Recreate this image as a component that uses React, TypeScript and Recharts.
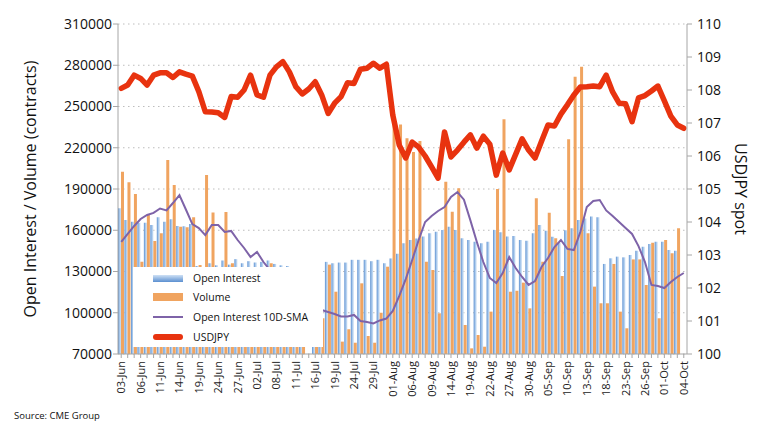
import React from 'react';
import { ComposedChart, Bar, Line, XAxis, YAxis, CartesianGrid, Legend } from 'recharts';

const dates = [
  '03-Jun','04-Jun','05-Jun','06-Jun','07-Jun','10-Jun','11-Jun','12-Jun','13-Jun','14-Jun',
  '17-Jun','18-Jun','19-Jun','20-Jun','21-Jun','24-Jun','25-Jun','26-Jun','27-Jun','28-Jun',
  '01-Jul','02-Jul','03-Jul','05-Jul','08-Jul','09-Jul','10-Jul','11-Jul','12-Jul','15-Jul',
  '16-Jul','17-Jul','18-Jul','19-Jul','22-Jul','23-Jul','24-Jul','25-Jul','26-Jul','29-Jul',
  '30-Jul','31-Jul','01-Aug','02-Aug','05-Aug','06-Aug','07-Aug','08-Aug','09-Aug','12-Aug',
  '13-Aug','14-Aug','15-Aug','16-Aug','19-Aug','20-Aug','21-Aug','22-Aug','23-Aug','26-Aug',
  '27-Aug','28-Aug','29-Aug','30-Aug','03-Sep','04-Sep','05-Sep','06-Sep','09-Sep','10-Sep',
  '11-Sep','12-Sep','13-Sep','16-Sep','17-Sep','18-Sep','19-Sep','20-Sep','23-Sep','24-Sep',
  '25-Sep','26-Sep','27-Sep','30-Sep','01-Oct','02-Oct','03-Oct','04-Oct',
];

const openInterest = [
  176000,167500,166200,165500,165500,163800,169400,166200,168000,163100,
  163000,164500,134000,133000,136000,134500,138000,135000,139000,136000,
  137500,136500,137000,138000,135500,134500,134000,120000,118000,null,
  110000,115000,137000,136000,136500,136500,138500,138500,138500,137500,
  138500,136000,139500,143000,150500,153000,154000,155500,157800,159000,
  160200,162600,160200,154100,152900,151700,150500,151700,160200,158500,
  155500,155800,152900,152400,157800,163800,159700,155300,151000,160000,
  161500,167500,168500,170000,169400,135500,139600,140800,140300,142000,
  145100,148000,150000,151700,151700,145600,145100,null,
];

const volume = [
  202600,194900,186400,137100,171100,152200,157800,211100,192900,162600,
  162100,169400,134700,200200,173000,118000,173300,136000,112000,98000,
  105000,121000,95000,136000,108000,99000,115000,92000,104000,null,
  88000,96000,135000,115300,79000,88000,78200,121400,83100,78200,
  100000,133500,239000,237000,227000,217000,225000,137100,131100,99600,
  195300,173500,190500,91100,74100,83800,75300,100800,190000,240700,
  115300,116000,121900,103200,183200,137100,172800,154100,126700,226100,
  271700,279000,157800,119000,106900,106900,135500,100800,88700,138800,
  138800,120200,151000,96000,152900,143200,161400,null,
];

const oiSma10 = [
  151500,157300,163100,168200,171100,172600,175800,174400,179800,185600,
  175100,164500,161600,156500,163800,163800,158700,159500,152900,147100,
  140500,144200,136900,131000,127000,124000,119000,116000,112000,108000,
  105000,102000,100500,99100,97300,97300,98400,94000,93300,92200,
  94400,95800,101300,112200,124500,138400,152900,166000,170400,174000,
  176900,184200,187800,182200,167200,151500,136900,125300,121600,128900,
  140500,132500,126000,120200,123100,133300,139800,147800,152900,146400,
  145600,158700,176900,181300,182000,174400,170400,166000,161600,157300,
  148500,136900,120200,119500,118000,122400,126000,128900,
];

const usdjpy = [
  108.05,108.15,108.45,108.35,108.15,108.45,108.52,108.52,108.38,108.55,
  108.48,108.42,107.95,107.34,107.33,107.31,107.17,107.8,107.78,108.0,
  108.45,107.85,107.78,108.45,108.7,108.86,108.55,108.1,107.88,108.03,
  108.25,107.85,107.29,107.6,107.8,108.22,108.2,108.63,108.66,108.81,
  108.66,108.78,107.24,106.33,105.94,106.42,106.27,106.0,105.67,105.33,
  106.73,105.97,106.18,106.42,106.64,106.24,106.6,106.36,105.42,106.09,
  105.58,106.05,106.52,106.18,105.94,106.45,106.94,106.91,107.27,107.55,
  107.85,108.09,108.1,108.12,108.1,108.45,107.94,107.6,107.58,107.04,
  107.76,107.83,107.97,108.12,107.67,107.21,106.94,106.84,
];

const leftTicks = [70000, 100000, 130000, 160000, 190000, 220000, 250000, 280000, 310000];
const rightTicks = [100, 101, 102, 103, 104, 105, 106, 107, 108, 109, 110];

const data = dates.map((d, i) => ({
  date: d,
  oi: openInterest[i],
  vol: volume[i],
  sma: oiSma10[i],
  fx: usdjpy[i],
}));

const FONT = '"Open Sans", "DejaVu Sans", sans-serif';
const AXIS = '#a6a6a6';
const BLUE_DARK = '#5b8fd0';
const BLUE_LIGHT = '#cfe1f5';
const ORANGE = '#f0a460';
const PURPLE = '#7e63a8';
const RED = '#e8330f';

const XTick = (props: any) => {
  const { x, y, payload } = props;
  const idx = dates.indexOf(payload.value);
  if (idx % 3 !== 0) return <g />;
  return (
    <g>
      <text
        x={x}
        y={y}
        dy={4}
        transform={`rotate(-90, ${x}, ${y})`}
        textAnchor="end"
        fontSize={11}
        fontFamily={FONT}
        fill="#222"
      >
        {payload.value}
      </text>
    </g>
  );
};

const LegendBox = () => {
  const row = (top: number, swatch: React.ReactNode, label: string) => (
    <div style={{ position: 'absolute', left: 0, top: top - 8, height: 16, width: 190 }}>
      <div style={{ position: 'absolute', left: 20, top: 0, width: 30, height: 16, display: 'flex', alignItems: 'center' }}>
        {swatch}
      </div>
      <div style={{ position: 'absolute', left: 60, top: 0, lineHeight: '16px', fontSize: 10.5, fontFamily: FONT, color: '#111', whiteSpace: 'nowrap' }}>
        {label}
      </div>
    </div>
  );
  return (
    <div style={{ position: 'relative', width: 190, height: 80, background: '#ffffff' }}>
      {row(11, <div style={{ width: 30, height: 7, background: `linear-gradient(to bottom, ${BLUE_LIGHT}, ${BLUE_DARK})` }} />, 'Open Interest')}
      {row(30, <div style={{ width: 30, height: 8, background: ORANGE }} />, 'Volume')}
      {row(50, <div style={{ width: 30, height: 2, background: PURPLE }} />, 'Open Interest 10D-SMA')}
      {row(70, <div style={{ width: 30, height: 6, borderRadius: 3, background: RED }} />, 'USDJPY')}
    </div>
  );
};

export default function App() {
  return (
    <div style={{ position: 'absolute', left: 0, top: 0, width: 757, height: 435, background: '#fff' }}>
      <ComposedChart
        width={757}
        height={435}
        data={data}
        margin={{ top: 24, right: 0, left: 0, bottom: 0 }}
        barGap={0}
        barCategoryGap={0}
      >
        <defs>
          <linearGradient id="oiGrad" x1="0" y1="0" x2="1" y2="0">
            <stop offset="0%" stopColor={BLUE_DARK} />
            <stop offset="55%" stopColor="#a9c9ec" />
            <stop offset="100%" stopColor={BLUE_LIGHT} />
          </linearGradient>
        </defs>
        <CartesianGrid yAxisId="left" vertical={false} stroke="#bdbdbd" strokeDasharray="1.5 3.5" />
        <XAxis
          dataKey="date"
          interval={0}
          height={81}
          tick={<XTick />}
          tickSize={4}
          tickMargin={3}
          tickLine={{ stroke: AXIS }}
          axisLine={{ stroke: AXIS }}
        />
        <YAxis
          yAxisId="left"
          orientation="left"
          width={118}
          domain={[70000, 310000]}
          ticks={leftTicks}
          allowDataOverflow
          tickSize={5}
          tickMargin={1}
          tick={{ fontSize: 14, fill: '#111', fontFamily: FONT }}
          tickLine={{ stroke: AXIS }}
          axisLine={{ stroke: AXIS }}
        />
        <YAxis
          yAxisId="right"
          orientation="right"
          width={70}
          domain={[100, 110]}
          ticks={rightTicks}
          allowDataOverflow
          tickSize={5}
          tickMargin={5}
          tick={{ fontSize: 14, fill: '#111', fontFamily: FONT }}
          tickLine={{ stroke: AXIS }}
          axisLine={{ stroke: AXIS }}
        />
        <Bar yAxisId="left" dataKey="oi" name="Open Interest" fill="url(#oiGrad)" barSize={3} isAnimationActive={false} />
        <Bar yAxisId="left" dataKey="vol" name="Volume" fill={ORANGE} barSize={3} isAnimationActive={false} />
        <Line
          yAxisId="left"
          type="linear"
          dataKey="sma"
          name="Open Interest 10D-SMA"
          stroke={PURPLE}
          strokeWidth={2}
          dot={false}
          activeDot={false}
          isAnimationActive={false}
        />
        <Line
          yAxisId="right"
          type="linear"
          dataKey="fx"
          name="USDJPY"
          stroke={RED}
          strokeWidth={5.5}
          strokeLinejoin="round"
          strokeLinecap="round"
          dot={false}
          activeDot={false}
          isAnimationActive={false}
        />
        <Legend
          layout="vertical"
          align="center"
          verticalAlign="middle"
          content={<LegendBox />}
          wrapperStyle={{ left: 133, top: 267, width: 190, height: 80, background: '#fff' }}
        />
      </ComposedChart>
      <div
        style={{
          position: 'absolute',
          left: 30,
          top: 189,
          transform: 'translate(-50%, -50%) rotate(-90deg)',
          whiteSpace: 'nowrap',
          fontSize: 16,
          fontFamily: FONT,
          color: '#111',
        }}
      >
        Open Interest / Volume (contracts)
      </div>
      <div
        style={{
          position: 'absolute',
          left: 741,
          top: 189,
          transform: 'translate(-50%, -50%) rotate(90deg)',
          whiteSpace: 'nowrap',
          fontSize: 16,
          fontFamily: FONT,
          color: '#111',
        }}
      >
        USDJPY spot
      </div>
      <div
        style={{
          position: 'absolute',
          left: 14,
          top: 409,
          whiteSpace: 'nowrap',
          fontSize: 9.5,
          fontFamily: FONT,
          color: '#111',
        }}
      >
        Source: CME Group
      </div>
    </div>
  );
}
